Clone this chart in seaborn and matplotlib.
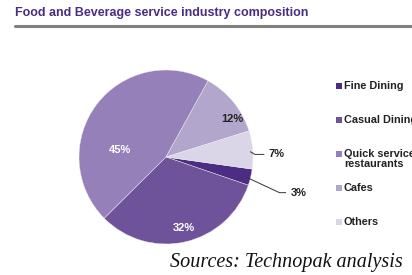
import matplotlib
matplotlib.use("Agg")
import matplotlib.pyplot as plt
import seaborn as sns
from matplotlib.patches import Rectangle

sns.set_style("white")
plt.rcParams['font.family'] = ['Liberation Sans', 'DejaVu Sans']

# data
categories = ['Fine Dining', 'Casual Dining', 'Quick service\nrestaurants', 'Cafes', 'Others']
shares = [3, 32, 45, 12, 7]
labels = ['3%', '32%', '45%', '12%', '7%']
colors = ['#4b2e83', '#6e539b', '#9580ba', '#b2a6cc', '#dbd5e8']

fig = plt.figure(figsize=(4.12, 2.75), dpi=100)
fig.patch.set_facecolor('white')

# title + rule
fig.text(15/412, 1 - 13/275, 'Food and Beverage service industry composition',
         fontsize=9, fontweight='bold', color='#4a2d80', va='center', ha='left')
fig.add_artist(plt.Line2D([15/412, 1.0], [1 - 26/275, 1 - 26/275],
                          color='#808080', lw=2.2))

# pie
ax = fig.add_axes([79/412, 31/275, 174/412, 174/275])
wedges, _ = ax.pie(shares, colors=colors, startangle=-8, counterclock=False,
                   radius=1, wedgeprops=dict(linewidth=0.3, edgecolor='#eeeeee'))
ax.set_xlim(-1, 1)
ax.set_ylim(-1, 1)
ax.set_aspect('equal')
ax.axis('off')

# inside labels
ax.text(-0.53, 0.08, labels[2], color='white', fontsize=8, fontweight='bold', ha='center', va='center')
ax.text(0.2, -0.82, labels[1], color='white', fontsize=8, fontweight='bold', ha='center', va='center')
ax.text(0.76, 0.44, labels[3], color='#222222', fontsize=8, fontweight='bold', ha='center', va='center')

# outside labels with leaders
ax.annotate(labels[4], xy=(0.97, 0.06), xytext=(1.18, 0.03), fontsize=8, fontweight='bold',
            color='#222222', ha='left', va='center', annotation_clip=False,
            arrowprops=dict(arrowstyle='-', color='#333333', lw=0.7,
                            connectionstyle='angle,angleA=0,angleB=-30,rad=0', shrinkA=1, shrinkB=0))
ax.annotate(labels[0], xy=(0.94, -0.24), xytext=(1.43, -0.41), fontsize=8, fontweight='bold',
            color='#222222', ha='left', va='center', annotation_clip=False,
            arrowprops=dict(arrowstyle='-', color='#333333', lw=0.7,
                            connectionstyle='angle,angleA=0,angleB=-25,rad=0', shrinkA=1, shrinkB=0))

# legend (drawn by hand so the two-line entry keeps the pitch)
legend_y = [86, 120, 154, 188, 222]
for cat, col, y in zip(categories, colors, legend_y):
    fig.add_artist(Rectangle((336/412, 1 - (y + 3)/275), 6/412, 6/275,
                             transform=fig.transFigure, facecolor=col, edgecolor='none'))
    fig.text(344/412, 1 - (y - 5)/275, cat, fontsize=7.8, fontweight='bold', color='#222222',
             ha='left', va='top', linespacing=1.0)

# source
fig.text(170/412, 1 - 262/275, 'Sources: Technopak analysis', family='Liberation Serif',
         style='italic', fontsize=14.5, color='#111111', ha='left', va='center')

fig.savefig('out.png', dpi=100, facecolor='white')
